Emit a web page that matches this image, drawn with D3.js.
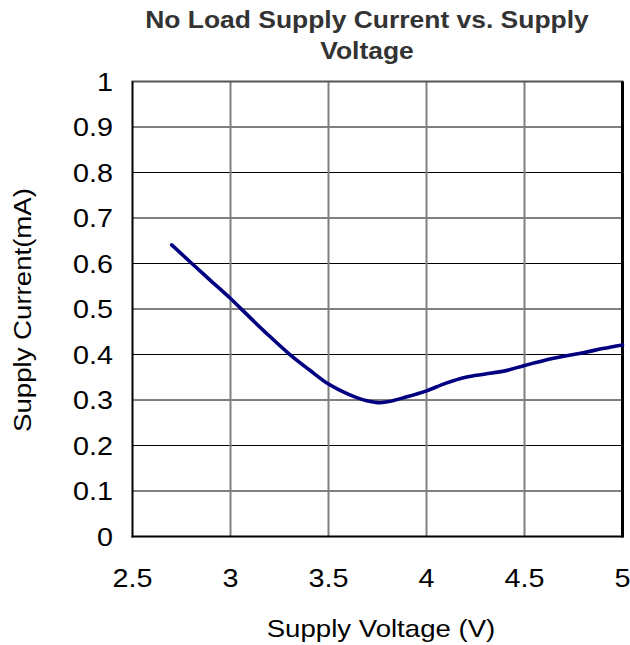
<!DOCTYPE html>
<html><head><meta charset="utf-8">
<script src="https://cdn.jsdelivr.net/npm/d3@7/dist/d3.min.js"></script>
<style>body{margin:0;background:#fff}svg{display:block}text{font-family:"Liberation Sans",Arial,sans-serif}</style>
</head><body>
<script>
const voltage = [2.7,2.8,2.9,3.0,3.1,3.2,3.3,3.4,3.5,3.6,3.7,3.76,3.8,3.9,4.0,4.1,4.2,4.3,4.4,4.5,4.6,4.7,4.8,4.9,5.0];
const current = [0.641,0.601,0.562,0.523,0.481,0.440,0.401,0.367,0.335,0.313,0.298,0.294,0.296,0.307,0.320,0.337,0.350,0.357,0.364,0.376,0.387,0.396,0.404,0.413,0.421];
const xTicks = [2.5,3,3.5,4,4.5,5];
const yTicks = [0,0.1,0.2,0.3,0.4,0.5,0.6,0.7,0.8,0.9,1];
const titleLines = ["No Load Supply Current vs. Supply","Voltage"];
const xLabel = "Supply Voltage (V)";
const yLabel = "Supply Current(mA)";

const W=630,H=645, L=132.5, R=622.5, T=81.5, B=536.5, SX=1.15;
const svg=d3.select("body").append("svg").attr("width",W).attr("height",H);
const x=d3.scaleLinear().domain([2.5,5]).range([L,R]);
const y=d3.scaleLinear().domain([0,1]).range([B,T]);

// grid
svg.append("g").selectAll("line").data(yTicks.filter(d=>d>0&&d<1)).join("line")
  .attr("x1",L).attr("x2",R).attr("y1",d=>y(d)).attr("y2",d=>y(d))
  .attr("stroke","#000").attr("stroke-width",1);
svg.append("g").selectAll("line").data(xTicks.filter(d=>d>2.5&&d<5)).join("line")
  .attr("x1",d=>x(d)).attr("x2",d=>x(d)).attr("y1",T).attr("y2",B)
  .attr("stroke","#808080").attr("stroke-width",2);
// frame
svg.append("line").attr("x1",L-1).attr("x2",R+1).attr("y1",T).attr("y2",T).attr("stroke","#555").attr("stroke-width",2);
svg.append("line").attr("x1",L).attr("x2",L).attr("y1",T).attr("y2",B+1).attr("stroke","#000").attr("stroke-width",2);
svg.append("line").attr("x1",L-1).attr("x2",R+1).attr("y1",B).attr("y2",B).attr("stroke","#000").attr("stroke-width",2);
svg.append("line").attr("x1",R).attr("x2",R).attr("y1",T).attr("y2",B+1).attr("stroke","#000").attr("stroke-width",3);

// line
svg.append("path").datum(voltage.map((v,i)=>[v,current[i]]))
  .attr("d",d3.line().x(d=>x(d[0])).y(d=>y(d[1])).curve(d3.curveMonotoneX))
  .attr("fill","none").attr("stroke","#000080").attr("stroke-width",3.6).attr("stroke-linejoin","round").attr("stroke-linecap","round");

function stext(g,tx,ty,str,anchor,size,weight,fill){
  return g.append("text").attr("transform",`translate(${tx},${ty}) scale(${SX},1)`)
   .attr("text-anchor",anchor).attr("font-size",size).attr("font-weight",weight||"normal").attr("fill",fill||"#000").text(str);
}
const g=svg.append("g");
yTicks.forEach(d=>stext(g,113,y(d)+9,d3.format("")(d),"end",25));
xTicks.forEach(d=>stext(g,x(d),587,d3.format("")(d),"middle",25));
stext(g,367,28,titleLines[0],"middle",23,"bold","#333");
stext(g,367,59,titleLines[1],"middle",23,"bold","#333");
stext(g,381,637,xLabel,"middle",24);
g.append("text").attr("transform",`translate(31,310) rotate(-90) scale(${SX},1)`).attr("text-anchor","middle")
 .attr("font-size",24).text(yLabel);
</script>
</body></html>
